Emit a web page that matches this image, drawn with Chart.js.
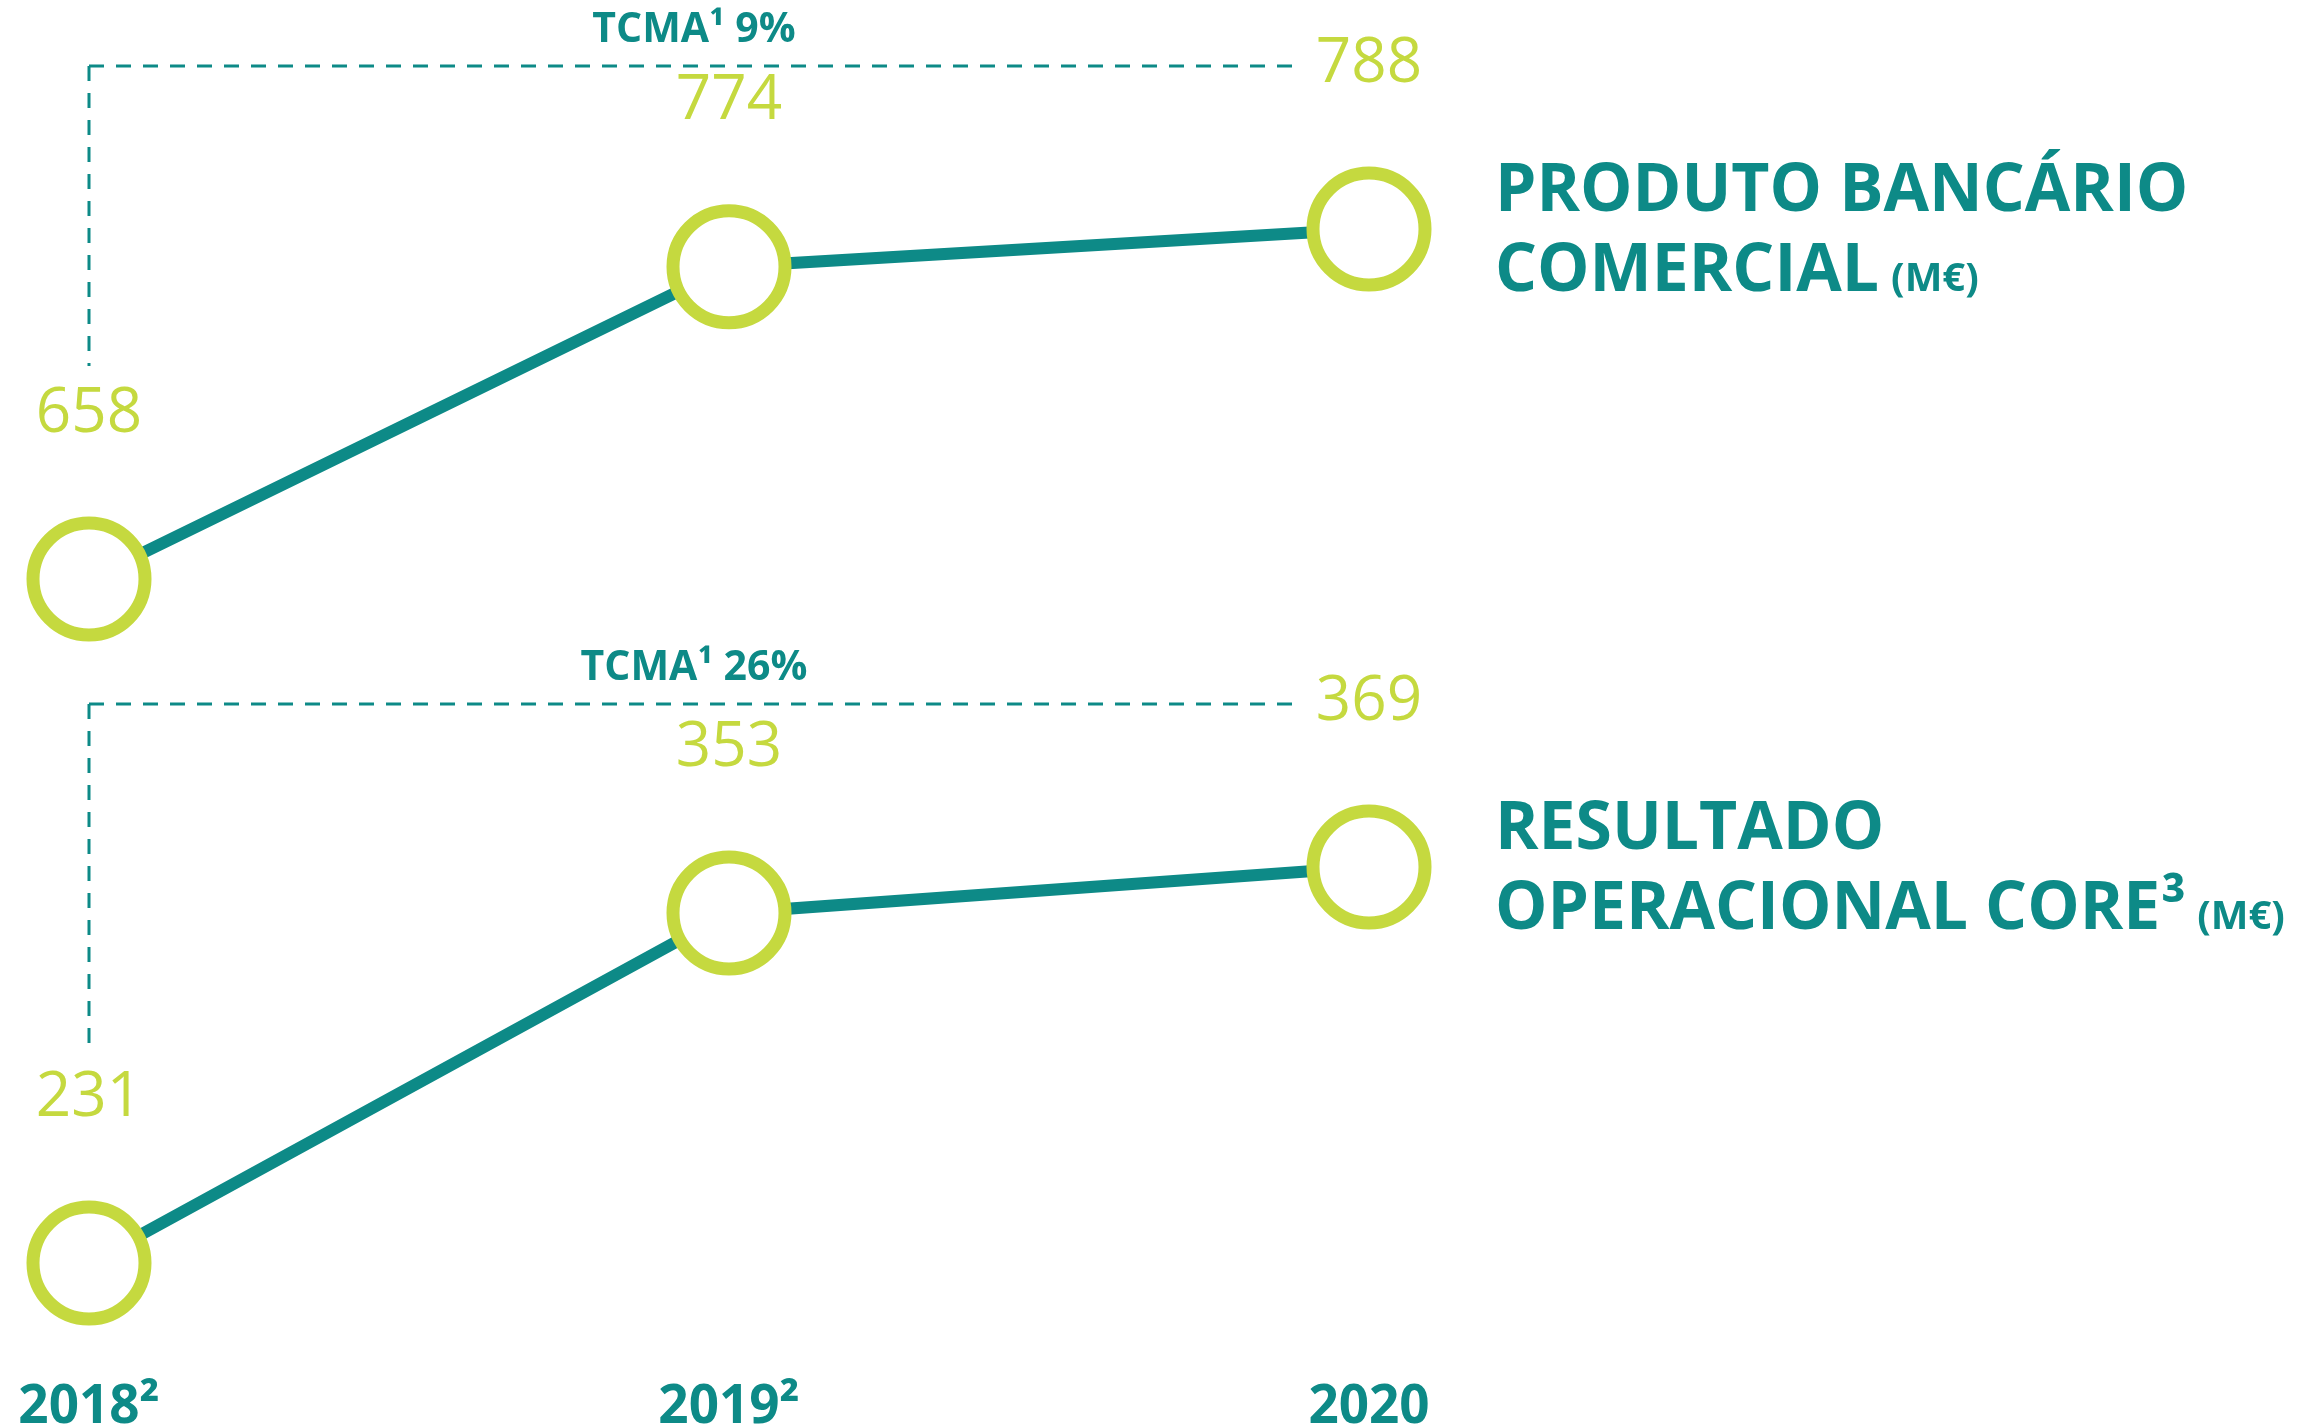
<!DOCTYPE html>
<html>
<head>
<meta charset="utf-8">
<script src="https://cdn.jsdelivr.net/npm/chart.js@4.4.0/dist/chart.umd.min.js"></script>
<style>
  html, body { margin: 0; padding: 0; background: #ffffff; }
  #chart { display: block; }
</style>
</head>
<body>
<canvas id="chart" width="2305" height="1425"></canvas>
<script>
// ------------------------------------------------------------
// DATA
// ------------------------------------------------------------
const years = ["2018²", "2019²", "2020"];
const produtoBancario = [658, 774, 788];
const resultadoCore = [231, 353, 369];
const tcmaLabels = ["TCMA¹ 9%", "TCMA¹ 26%"];
const titleLines = [["PRODUTO BANCÁRIO", "COMERCIAL"], ["RESULTADO", "OPERACIONAL CORE"]];
const titleSups = ["", "³"];
const unitLabel = "(M€)";

// ------------------------------------------------------------
// STYLE
// ------------------------------------------------------------
const TEAL = "#0d8a87";
const LIME = "#c5d93f";
const FONT = "'Open Sans', 'Noto Sans', sans-serif";
const LABEL_GAP = 165;
const AXIS_HEIGHT = 50;

// ------------------------------------------------------------
// ANNOTATIONS: value labels, dashed guide, TCMA, titles
// ------------------------------------------------------------
const annotations = {
  id: "annotations",
  afterDatasetsDraw(chart) {
    const ctx = chart.ctx;

    chart.data.datasets.forEach((ds, i) => {
      const pts = chart.getDatasetMeta(i).data;
      const first = pts[0];
      const last = pts[pts.length - 1];
      const guideY = last.y - LABEL_GAP + 2;

      ctx.save();

      // value labels above each point
      ctx.font = "62px " + FONT;
      ctx.fillStyle = LIME;
      ctx.textAlign = "center";
      ctx.textBaseline = "middle";
      pts.forEach((p, j) => ctx.fillText(String(ds.data[j]), p.x, p.y - LABEL_GAP));

      // dashed guide (corner -> down, corner -> right)
      ctx.strokeStyle = TEAL;
      ctx.lineWidth = 3;
      ctx.setLineDash([15, 12]);
      ctx.beginPath();
      ctx.moveTo(first.x, guideY);
      ctx.lineTo(first.x, first.y - LABEL_GAP - 48);
      ctx.moveTo(first.x, guideY);
      ctx.lineTo(last.x - 70, guideY);
      ctx.stroke();
      ctx.setLineDash([]);

      // TCMA
      ctx.font = "bold 41px " + FONT;
      ctx.fillStyle = TEAL;
      ctx.textBaseline = "alphabetic";
      ctx.fillText(tcmaLabels[i], (first.x + last.x - 70) / 2, guideY - 24);

      // series title to the right of the last point
      const tx = last.x + 126;
      ctx.textAlign = "left";
      ctx.font = "bold 66px " + FONT;
      ctx.fillText(titleLines[i][0], tx, last.y - 18);
      ctx.fillText(titleLines[i][1], tx, last.y + 62);
      let w = ctx.measureText(titleLines[i][1]).width;
      if (titleSups[i]) {
        ctx.fillText(titleSups[i], tx + w + 1, last.y + 62);
        w += ctx.measureText(titleSups[i]).width;
      }
      ctx.font = "bold 40px " + FONT;
      ctx.fillText(unitLabel, tx + w + 12, last.y + 62);

      ctx.restore();
    });
  }
};

// ------------------------------------------------------------
// CHART
// ------------------------------------------------------------
const lineStyle = {
  borderColor: TEAL,
  borderWidth: 12,
  tension: 0,
  pointRadius: 56,
  pointHoverRadius: 56,
  pointBorderWidth: 13,
  pointBorderColor: LIME,
  pointBackgroundColor: "#ffffff",
  clip: false
};

new Chart(document.getElementById("chart"), {
  type: "line",
  data: {
    labels: years,
    datasets: [
      { ...lineStyle, label: "Produto Bancário Comercial", data: produtoBancario, yAxisID: "yTop" },
      { ...lineStyle, label: "Resultado Operacional Core", data: resultadoCore, yAxisID: "yBottom" }
    ]
  },
  options: {
    responsive: false,
    animation: false,
    devicePixelRatio: 1,
    events: [],
    layout: { autoPadding: false, padding: { left: 89, right: 936, top: 0, bottom: 0 } },
    plugins: {
      legend: { display: false },
      tooltip: { enabled: false }
    },
    scales: {
      x: {
        offset: false,
        grid: { display: false, drawTicks: false },
        border: { display: false },
        afterFit(scale) { scale.height = AXIS_HEIGHT; },
        ticks: {
          color: TEAL,
          padding: 13,
          maxRotation: 0,
          autoSkip: false,
          font: { family: FONT, weight: "bold", size: 53, lineHeight: 0.755 }
        }
      },
      yTop: { display: false, min: 362.3, max: 873.1 },
      yBottom: { display: false, min: 192.0, max: 671.1 }
    }
  },
  plugins: [annotations]
});
</script>
</body>
</html>
